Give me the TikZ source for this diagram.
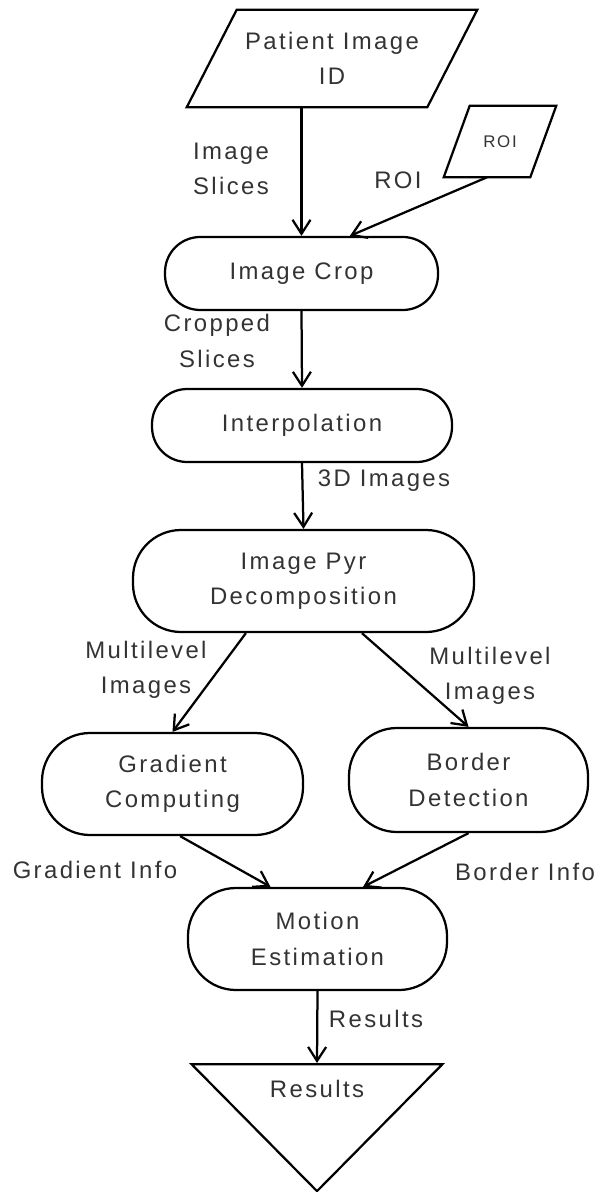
\documentclass[tikz,border=0pt]{standalone}
\usepackage{fontspec}
\newfontfamily\flowfont{Liberation Sans}[LetterSpace=10]
\usetikzlibrary{shapes.geometric,arrows.meta}

\begin{document}
\begin{tikzpicture}[
	every node/.style={font=\flowfont\fontsize{17}{25}\selectfont, text=black!80, align=center},
	proc/.style={draw, rectangle, rounded corners=1.2cm, inner sep=0pt, line width=1.6pt},
	thinproc/.style={proc, rounded corners=0.88cm},
	data/.style={rectangle, inner sep=0pt},
	outbox/.style={draw, isosceles triangle, isosceles triangle stretches, shape border rotate=270, inner sep=0pt, line width=1.6pt},
	flow/.style={-{Straight Barb[length=0.35cm,width=0.45cm]}, line width=1.6pt}
]
\useasboundingbox (0,0) rectangle (14.925,-29.8);
%\draw[step=1,help lines] (0,0) grid (15,-30);
% body of the graph
	\node[data, minimum width=6cm, minimum height=2.425cm] (patient) at (8.3,-1.4625) {Patient Image\\ID};
	\node[data, minimum width=2.15cm, minimum height=1.775cm,
		font=\flowfont\fontsize{12}{14}\selectfont] (roi) at (12.5,-3.5375) {ROI};
	\foreach \n/\s in {patient/0.625, roi/0.325}
	\draw[line width=1.6pt] ([xshift=\s cm]\n.north west) -- ([xshift=\s cm]\n.north east) --
		([xshift=-\s cm]\n.south east) -- ([xshift=-\s cm]\n.south west) -- cycle;
	\node[thinproc, minimum width=6.825cm, minimum height=1.825cm] (crop) at (7.5375,-6.8375) {Image Crop};
	\node[thinproc, minimum width=7.5cm, minimum height=1.825cm] (interp) at (7.55,-10.6375) {Interpolation};
	\node[proc, minimum width=8.525cm, minimum height=2.55cm] (pyr) at (7.5875,-14.525) {Image Pyr\\Decomposition};
	\node[proc, minimum width=6.525cm, minimum height=2.55cm] (grad) at (4.3125,-19.6) {Gradient\\Computing};
	\node[proc, minimum width=5.975cm, minimum height=2.6cm] (border) at (11.7125,-19.5) {Border\\Detection};
	\node[proc, minimum width=6.475cm, minimum height=2.55cm] (motion) at (7.9375,-23.475) {Motion\\Estimation};
	\node[outbox, minimum width=6.275cm, minimum height=3.175cm, anchor=north,
		label={[anchor=north,yshift=-0.3cm]north:Results}] (res) at (7.925,-26.575) {};
% arrows
	\draw[flow] (crop.north |- patient.south) -- (crop.north);
	\draw[flow] ([xshift=-0.325cm]roi.south) -- ([xshift=1.21cm]crop.north);
	\draw[flow] (crop.south) -- (interp.north);
	\draw[flow] (interp.south) -- (pyr.north);
	\draw[flow] ([xshift=-1.44cm]pyr.south) -- (grad.north);
	\draw[flow] ([xshift=1.46cm]pyr.south) -- (border.north);
	\draw[flow] ([xshift=0.19cm]grad.south) -- ([xshift=-1.175cm]motion.north);
	\draw[flow] (border.south) -- ([xshift=1.14cm]motion.north);
	\draw[flow] (motion.south) -- (res.north);
% arrow labels
	\node (lslices) at (5.775,-4.225) {Image\\Slices};
	\node (lroi) at (9.95,-4.5) {ROI};
	\node (lcropped) at (5.425,-8.525) {Cropped\\Slices};
	\node (lthreed) at (9.6,-12.025) {3D Images};
	\node (lmultil) at (3.65,-16.75) {Multilevel\\Images};
	\node (lmultir) at (12.25,-16.9) {Multilevel\\Images};
	\node (lgrad) at (2.375,-21.75) {Gradient Info};
	\node (lborder) at (13.125,-21.8) {Border Info};
	\node (lres) at (9.4,-25.475) {Results};
\end{tikzpicture}
\end{document}
